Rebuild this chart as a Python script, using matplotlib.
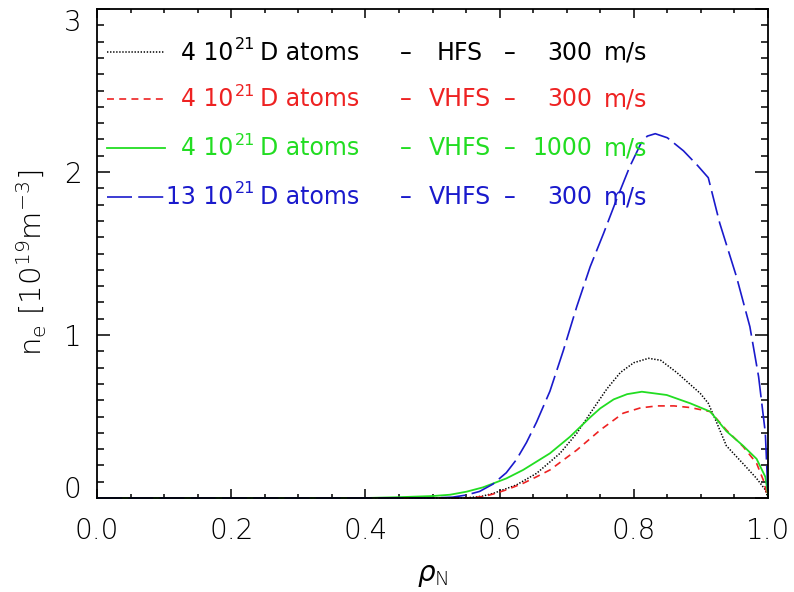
import matplotlib
matplotlib.use("Agg")
import matplotlib.pyplot as plt

plt.rcParams["font.family"] = "DejaVu Sans"
plt.rcParams["mathtext.fontset"] = "custom"
plt.rcParams["mathtext.rm"] = "DejaVu Sans:light"
plt.rcParams["mathtext.it"] = "DejaVu Sans:italic:light"
plt.rcParams["mathtext.sf"] = "DejaVu Sans:light"
plt.rcParams["lines.scale_dashes"] = False

# electron density profiles (rho_N, n_e in 1e19 m^-3)
rho_hfs = [0.0, 0.50, 0.55, 0.575, 0.591, 0.625, 0.655, 0.69, 0.715, 0.74, 0.76,
           0.78, 0.80, 0.822, 0.84, 0.864, 0.899, 0.911, 0.924, 0.938, 0.963,
           0.983, 0.996, 1.0]
ne_hfs = [0.0, 0.0, 0.0, 0.012, 0.029, 0.08, 0.151, 0.274, 0.397, 0.55, 0.67,
          0.77, 0.83, 0.857, 0.845, 0.77, 0.642, 0.581, 0.458, 0.32, 0.21,
          0.12, 0.05, 0.0]

rho_vhfs = [0.0, 0.55, 0.575, 0.591, 0.61, 0.635, 0.655, 0.675, 0.715, 0.75,
            0.784, 0.81, 0.835, 0.86, 0.884, 0.914, 0.938, 0.963, 0.983, 0.993, 1.0]
ne_vhfs = [0.0, 0.0, 0.008, 0.025, 0.05, 0.09, 0.13, 0.172, 0.294, 0.417,
           0.52, 0.553, 0.565, 0.565, 0.555, 0.53, 0.417, 0.315, 0.213, 0.11, 0.0]

rho_fast = [0.0, 0.40, 0.45, 0.50, 0.526, 0.551, 0.575, 0.591, 0.61, 0.635,
            0.675, 0.705, 0.735, 0.75, 0.77, 0.79, 0.812, 0.849, 0.884, 0.914,
            0.938, 0.963, 0.983, 0.996, 1.0]
ne_fast = [0.0, 0.0, 0.005, 0.012, 0.02, 0.039, 0.065, 0.09, 0.12, 0.172,
           0.274, 0.376, 0.495, 0.55, 0.605, 0.637, 0.652, 0.632, 0.581, 0.53,
           0.41, 0.32, 0.24, 0.13, 0.02]

rho_13 = [0.0, 0.50, 0.53, 0.55, 0.57, 0.59, 0.61, 0.625, 0.64, 0.655, 0.675,
          0.695, 0.715, 0.735, 0.755, 0.774, 0.794, 0.81, 0.82, 0.832, 0.85,
          0.874, 0.895, 0.911, 0.928, 0.953, 0.973, 0.986, 0.996, 1.0]
ne_13 = [0.0, 0.0, 0.005, 0.018, 0.04, 0.085, 0.155, 0.235, 0.34, 0.465, 0.655,
         0.905, 1.174, 1.419, 1.624, 1.828, 2.033, 2.17, 2.22, 2.235, 2.21,
         2.13, 2.04, 1.965, 1.687, 1.358, 1.051, 0.744, 0.40, 0.02]

atoms = ["4", "4", "4", "13"]
launch = ["HFS", "VHFS", "VHFS", "VHFS"]
speeds = ["300", "300", "1000", "300"]

colors = ["black", "#ee2222", "#22dd22", "#1a1acc"]
styles = [(0, (1.0, 1.2)), (0, (5.0, 3.8)), "-", (0, (18.0, 4.5))]
widths = [1.1, 1.2, 1.3, 1.2]

fig = plt.figure(figsize=(7.94, 5.92), dpi=100)
ax = fig.add_axes([97 / 794, 94 / 592, 671 / 794, 489 / 592])

profiles = [(rho_hfs, ne_hfs), (rho_vhfs, ne_vhfs), (rho_fast, ne_fast), (rho_13, ne_13)]
for (x, y), c, ls, lw in zip(profiles, colors, styles, widths):
    ax.plot(x, y, color=c, linestyle=ls, linewidth=lw, clip_on=False)

ax.set_xlim(0, 1)
ax.set_ylim(0, 3)
ax.set_xticks([0.0, 0.2, 0.4, 0.6, 0.8, 1.0])
ax.set_xticklabels(["0.0", "0.2", "0.4", "0.6", "0.8", "1.0"], fontweight="light")
ax.set_xticks([i * 0.05 for i in range(21)], minor=True)
ax.set_yticks([0, 1, 2, 3])
ax.set_yticklabels(["0", "1", "2", "3"], fontweight="light")
ax.set_yticks([i * 0.1 for i in range(31)], minor=True)

ax.tick_params(axis="both", which="both", direction="in", top=True, right=True,
               width=1.1, labelsize=20)
ax.tick_params(axis="x", which="major", length=6.5, pad=14)
ax.tick_params(axis="x", which="minor", length=3.2)
ax.tick_params(axis="y", which="major", length=9.5, pad=11)
ax.tick_params(axis="y", which="minor", length=5.0)
for s in ax.spines.values():
    s.set_linewidth(1.3)

ylabels = ax.get_yticklabels()
ylabels[0].set_verticalalignment("baseline")
ylabels[-1].set_verticalalignment("top")

ax.set_xlabel(r"$\rho_\mathrm{N}$", fontsize=20, fontweight="light")
ax.xaxis.set_label_coords(0.5, -0.128)
ax.set_ylabel(r"n$_\mathrm{e}$ [10$^{19}$m$^{-3}$]", fontsize=21, fontweight="light")
ax.yaxis.set_label_coords(-0.072, 0.48)

# hand-made legend with aligned columns (axes fractions)
row_y = [0.912, 0.816, 0.716, 0.616]
base = 0.0153
sup = 0.022
for i in range(4):
    y = row_y[i] - base
    c = colors[i]
    ax.plot([0.015, 0.101], [row_y[i], row_y[i]], color=c, linestyle=styles[i],
            linewidth=widths[i], transform=ax.transAxes)
    kw = dict(transform=ax.transAxes, color=c, fontsize=17, va="baseline")
    ax.text(0.203, y, atoms[i] + " 10", ha="right", **kw)
    ax.text(0.206, y + sup, "21", ha="left", transform=ax.transAxes, color=c,
            fontsize=11.5, va="baseline")
    ax.text(0.243, y, "D atoms", ha="left", **kw)
    ax.text(0.4605, y, "–", ha="center", **kw)
    ax.text(0.541, y, launch[i], ha="center", **kw)
    ax.text(0.6155, y, "–", ha="center", **kw)
    ax.text(0.7377, y, speeds[i], ha="right", **kw)
    ax.text(0.7556, y, "m/s", ha="left", **kw)

fig.savefig("out.png", dpi=100, facecolor="white")
